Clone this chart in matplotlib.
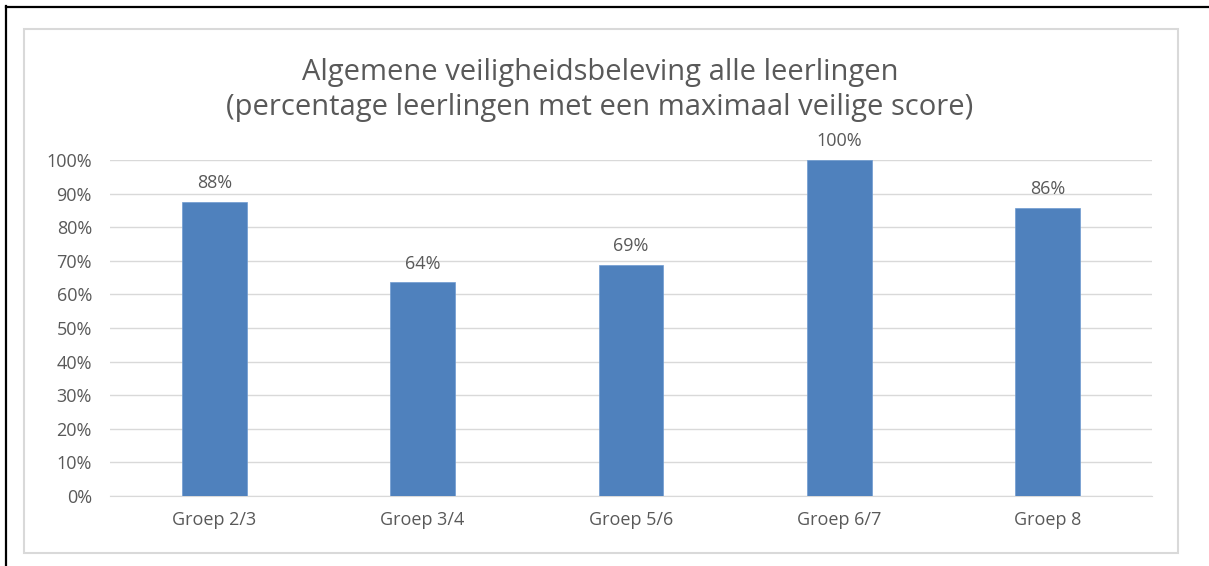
import matplotlib

matplotlib.use("Agg", force=True)
import matplotlib.pyplot as plt
from matplotlib.patches import Rectangle
from matplotlib.lines import Line2D
from matplotlib.ticker import PercentFormatter


groups = ["Groep 2/3", "Groep 3/4", "Groep 5/6", "Groep 6/7", "Groep 8"]
percentages = [87.5, 63.6, 68.8, 100.0, 85.7]
y_ticks = [0, 10, 20, 30, 40, 50, 60, 70, 80, 90, 100]

TITLE = "Algemene veiligheidsbeleving alle leerlingen\n(percentage leerlingen met een maximaal veilige score)"
TEXT_GREY = "#595959"
BAR_BLUE = "#4f81bd"
GRID_GREY = "#d9d9d9"

plt.rcParams["font.family"] = ["Open Sans", "DejaVu Sans"]

W, H = 1209, 566
fig = plt.figure(figsize=(W / 100, H / 100), dpi=100)
fig.patch.set_facecolor("white")

# black frame on the left and top (the picture is cropped on the other sides)
fig.add_artist(Line2D([6 / W, 6 / W], [0, 1 - 6 / H], color="black", lw=1.6, transform=fig.transFigure))
fig.add_artist(Line2D([6 / W, 1], [1 - 7 / H, 1 - 7 / H], color="black", lw=1.6, transform=fig.transFigure))

# light grey chart-area box
fig.add_artist(Rectangle((24 / W, 1 - 553 / H), (1178 - 24) / W, (553 - 29) / H,
                         fill=False, edgecolor=GRID_GREY, lw=1.5, transform=fig.transFigure))

ax = fig.add_axes([110 / W, 1 - 496 / H, (1152 - 110) / W, (496 - 160) / H])
x = range(len(groups))
bars = ax.bar(x, percentages, width=0.31, color=BAR_BLUE, edgecolor="#6f9bd1", lw=0.5, zorder=3)

for rect, val in zip(bars, percentages):
    ax.annotate("{:.0f}%".format(val), (rect.get_x() + rect.get_width() / 2, rect.get_height()),
                xytext=(0, 7), textcoords="offset points", ha="center", va="bottom",
                fontsize=13, color=TEXT_GREY)

ax.set_xlim(-0.5, len(groups) - 0.5)
ax.set_ylim(0, 100)
ax.set_yticks(y_ticks)
ax.yaxis.set_major_formatter(PercentFormatter(decimals=0))
ax.set_xticks(list(x))
ax.set_xticklabels(groups)
ax.tick_params(axis="y", length=0, pad=13, labelsize=13, labelcolor=TEXT_GREY)
ax.tick_params(axis="x", length=0, pad=11, labelsize=13, labelcolor=TEXT_GREY)
ax.grid(axis="y", color=GRID_GREY, lw=1, zorder=0)
for side in ("top", "right", "left"):
    ax.spines[side].set_visible(False)
ax.spines["bottom"].set_color(GRID_GREY)

fig.text(600 / W, 1 - 90 / H, TITLE, ha="center", va="center", fontsize=21,
         color=TEXT_GREY, linespacing=1.3)

fig.savefig("out.png", dpi=100, facecolor="white")
plt.close(fig)
